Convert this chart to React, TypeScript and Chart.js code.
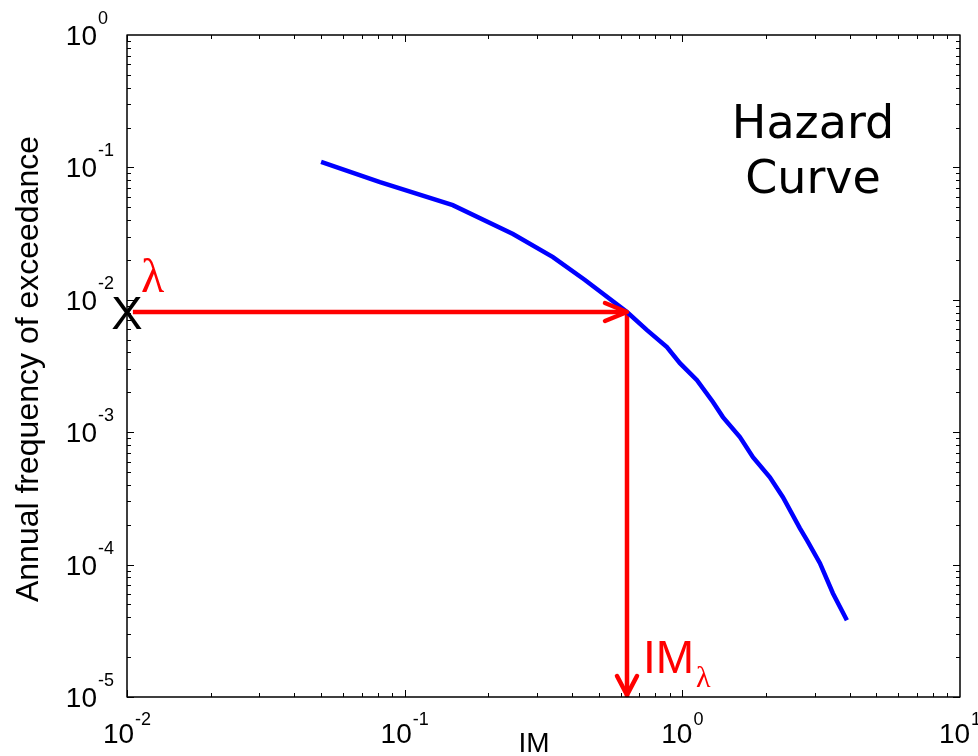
import React, { useEffect, useRef } from "react";
import { Chart, registerables } from "chart.js";

Chart.register(...registerables);

// Hazard curve: intensity measure vs. annual frequency of exceedance
const imValues = [
  0.05, 0.0815, 0.149, 0.2455, 0.342, 0.446, 0.632, 0.746, 0.88, 0.98, 1.129,
  1.289, 1.4, 1.612, 1.796, 2.067, 2.303, 2.652, 2.81, 3.13, 3.485, 3.914,
];
const rateValues = [
  0.11, 0.0775, 0.0519, 0.0314, 0.021, 0.0141, 0.00809, 0.0059, 0.00439,
  0.00332, 0.00247, 0.00169, 0.0013, 0.000918, 0.000648, 0.000457, 0.000323,
  0.000188, 0.000153, 0.0001025, 6.08e-5, 3.8e-5,
];

// Axis decades (labels drawn as 10^n)
const xTickExponents = [-2, -1, 0, 1];
const yTickExponents = [0, -1, -2, -3, -4, -5];

// Design point
const LAMBDA = 0.00809;
const IM_LAMBDA = 0.632;
const ARROW_START_IM = 0.0105;

const X_MIN = 0.01;
const X_MAX = 10;
const Y_MIN = 1e-5;
const Y_MAX = 1;

const SANS = '"Liberation Sans", Arial, sans-serif';
const SERIF = '"Liberation Serif", "Times New Roman", serif';

const RED = "#ff0000";
const BLUE = "#0000ff";

function drawPower(
  ctx: CanvasRenderingContext2D,
  exp: string,
  baseX: number,
  baseY: number,
  expY: number
) {
  ctx.font = `28px ${SANS}`;
  ctx.textAlign = "left";
  ctx.textBaseline = "alphabetic";
  ctx.fillText("10", baseX, baseY);
  const w = ctx.measureText("10").width;
  ctx.font = `18px ${SANS}`;
  ctx.fillText(exp, baseX + w + 1, expY);
}

function powerWidth(ctx: CanvasRenderingContext2D, exp: string) {
  ctx.font = `28px ${SANS}`;
  const w1 = ctx.measureText("10").width;
  ctx.font = `18px ${SANS}`;
  const w2 = ctx.measureText(exp).width;
  return w1 + 1 + w2;
}

const decorations = {
  id: "decorations",
  afterDatasetsDraw(chart: any) {
    const { ctx, chartArea: a, scales } = chart;
    const xs = scales.x;
    const ys = scales.y;
    ctx.save();

    // Arrowheads on the design-point guide lines
    ctx.strokeStyle = RED;
    ctx.lineWidth = 4.5;
    ctx.lineCap = "round";
    ctx.lineJoin = "round";
    const tx = xs.getPixelForValue(IM_LAMBDA);
    const ty = ys.getPixelForValue(LAMBDA);
    ctx.beginPath();
    ctx.moveTo(tx - 22, ty - 9);
    ctx.lineTo(tx, ty);
    ctx.lineTo(tx - 22, ty + 9);
    ctx.stroke();
    const by = ys.getPixelForValue(Y_MIN) - 2;
    ctx.beginPath();
    ctx.moveTo(tx - 10, by - 19);
    ctx.lineTo(tx, by);
    ctx.lineTo(tx + 10, by - 19);
    ctx.stroke();

    // Axes box
    ctx.lineCap = "butt";
    ctx.strokeStyle = "#000";
    ctx.lineWidth = 1.5;
    ctx.strokeRect(a.left, a.top, a.right - a.left, a.bottom - a.top);

    // Inward major/minor ticks on all four sides
    ctx.lineWidth = 1;
    ctx.beginPath();
    const xDecades = xTickExponents.slice(0, -1);
    for (const d of xDecades) {
      for (let m = 1; m <= 9; m++) {
        const px = Math.round(xs.getPixelForValue(m * Math.pow(10, d))) + 0.5;
        const len = m === 1 ? 7 : 4;
        ctx.moveTo(px, a.bottom);
        ctx.lineTo(px, a.bottom - len);
        ctx.moveTo(px, a.top);
        ctx.lineTo(px, a.top + len);
      }
    }
    const yDecades = yTickExponents.slice(1);
    for (const d of yDecades) {
      for (let m = 1; m <= 9; m++) {
        const py = Math.round(ys.getPixelForValue(m * Math.pow(10, d))) + 0.5;
        const len = m === 1 ? 7 : 4;
        ctx.moveTo(a.left, py);
        ctx.lineTo(a.left + len, py);
        ctx.moveTo(a.right, py);
        ctx.lineTo(a.right - len, py);
      }
    }
    ctx.stroke();

    // Tick labels
    ctx.fillStyle = "#000";
    for (const e of yTickExponents) {
      const py = ys.getPixelForValue(Math.pow(10, e));
      ctx.font = `28px ${SANS}`;
      const w = ctx.measureText("10").width;
      drawPower(ctx, String(e), a.left - 30 - w, py + 10, py - 11);
    }
    for (const e of xTickExponents) {
      const px = xs.getPixelForValue(Math.pow(10, e));
      const tw = powerWidth(ctx, String(e));
      drawPower(ctx, String(e), px - tw / 2, a.bottom + 46, a.bottom + 28);
    }

    // Axis titles
    ctx.font = `28px ${SANS}`;
    ctx.textAlign = "center";
    ctx.textBaseline = "alphabetic";
    ctx.fillText("IM", 534, a.bottom + 55);

    ctx.save();
    ctx.translate(38, (a.top + a.bottom) / 2 + 3);
    ctx.rotate(-Math.PI / 2);
    ctx.font = `32px ${SANS}`;
    ctx.fillText("Annual frequency of exceedance", 0, 0);
    ctx.restore();

    // Curve caption
    ctx.font = `46px "DejaVu Sans", sans-serif`;
    ctx.textAlign = "center";
    ctx.fillText("Hazard", 813, 138);
    ctx.fillText("Curve", 813, 193);

    // Design-point annotations
    ctx.font = `47px ${SANS}`;
    ctx.textAlign = "center";
    ctx.fillText("X", a.left, ty + 17);

    ctx.fillStyle = RED;
    ctx.textAlign = "left";
    ctx.font = `48px ${SERIF}`;
    ctx.fillText("λ", a.left + 14, ty - 20);

    ctx.font = `46px ${SANS}`;
    ctx.fillText("IM", tx + 16, a.bottom - 24);
    ctx.font = `30px ${SERIF}`;
    ctx.fillText("λ", tx + 69, a.bottom - 10);

    ctx.restore();
  },
};

export default function App() {
  const canvasRef = useRef<HTMLCanvasElement | null>(null);

  useEffect(() => {
    if (!canvasRef.current) return;
    const curve = imValues.map((x, i) => ({ x, y: rateValues[i] }));
    const chart = new Chart(canvasRef.current, {
      type: "line",
      data: {
        datasets: [
          {
            data: curve,
            borderColor: BLUE,
            borderWidth: 4.5,
            pointRadius: 0,
            tension: 0,
            fill: false,
          },
          {
            data: [
              { x: ARROW_START_IM, y: LAMBDA },
              { x: IM_LAMBDA, y: LAMBDA },
            ],
            borderColor: RED,
            borderWidth: 4.5,
            pointRadius: 0,
            fill: false,
          },
          {
            data: [
              { x: IM_LAMBDA, y: LAMBDA },
              { x: IM_LAMBDA, y: Y_MIN },
            ],
            borderColor: RED,
            borderWidth: 4.5,
            pointRadius: 0,
            fill: false,
          },
        ],
      },
      options: {
        responsive: false,
        animation: false,
        devicePixelRatio: 1,
        layout: { padding: { left: 127, top: 35, right: 18, bottom: 59 } },
        plugins: {
          legend: { display: false },
          tooltip: { enabled: false },
        },
        scales: {
          x: { type: "logarithmic", min: X_MIN, max: X_MAX, display: false },
          y: { type: "logarithmic", min: Y_MIN, max: Y_MAX, display: false },
        },
      },
      plugins: [decorations],
    });
    return () => chart.destroy();
  }, []);

  return (
    <div
      style={{
        position: "fixed",
        left: 0,
        top: 0,
        width: 978,
        height: 756,
        background: "#fff",
      }}
    >
      <canvas ref={canvasRef} width={978} height={756} style={{ display: "block" }} />
    </div>
  );
}
